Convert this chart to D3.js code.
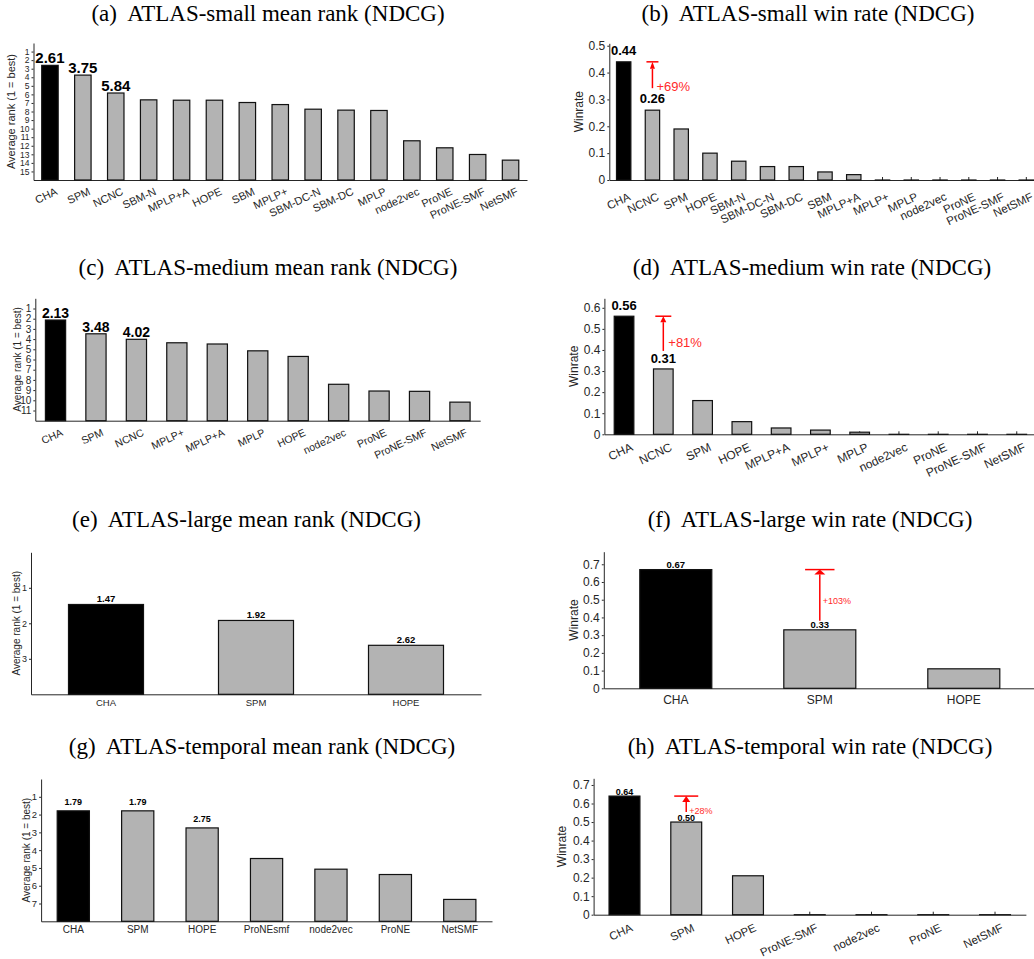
<!DOCTYPE html>
<html>
<head>
<meta charset="utf-8">
<script src="https://cdn.jsdelivr.net/npm/d3@7"></script>
<style>
  body { margin: 0; background: #fff; }
  text { font-family: "Liberation Sans", Arial, Helvetica, sans-serif; }
  .title { font-family: "Liberation Serif", "Times New Roman", serif; white-space: pre; }
</style>
</head>
<body>
<div id="chart"></div>
<script>
// Data.
const smallRankNames = ["CHA","SPM","NCNC","SBM-N","MPLP+A","HOPE","SBM","MPLP+","SBM-DC-N","SBM-DC","MPLP","node2vec","ProNE","ProNE-SMF","NetSMF"];
const smallRankVals  = [2.61, 3.75, 5.84, 6.64, 6.68, 6.68, 6.95, 7.19, 7.73, 7.84, 7.88, 11.42, 12.24, 13.02, 13.68];
const smallWinNames  = ["CHA","NCNC","SPM","HOPE","SBM-N","SBM-DC-N","SBM-DC","SBM","MPLP+A","MPLP+","MPLP","node2vec","ProNE","ProNE-SMF","NetSMF"];
const smallWinVals   = [0.44, 0.26, 0.19, 0.10, 0.07, 0.05, 0.05, 0.03, 0.02, 0, 0, 0, 0, 0, 0];

const mediumRankNames = ["CHA","SPM","NCNC","MPLP+","MPLP+A","MPLP","HOPE","node2vec","ProNE","ProNE-SMF","NetSMF"];
const mediumRankVals  = [2.13, 3.48, 4.02, 4.36, 4.48, 5.15, 5.70, 8.43, 9.09, 9.12, 10.18];
const mediumWinNames  = ["CHA","NCNC","SPM","HOPE","MPLP+A","MPLP+","MPLP","node2vec","ProNE","ProNE-SMF","NetSMF"];
const mediumWinVals   = [0.56, 0.31, 0.16, 0.06, 0.03, 0.02, 0.01, 0, 0, 0, 0];

const largeRankNames = ["CHA","SPM","HOPE"];
const largeRankVals  = [1.47, 1.92, 2.62];
const largeWinNames  = ["CHA","SPM","HOPE"];
const largeWinVals   = [0.67, 0.33, 0.11];

const temporalRankNames = ["CHA","SPM","HOPE","ProNEsmf","node2vec","ProNE","NetSMF"];
const temporalRankVals  = [1.79, 1.79, 2.75, 4.47, 5.07, 5.37, 6.77];
const temporalWinNames  = ["CHA","SPM","HOPE","ProNE-SMF","node2vec","ProNE","NetSMF"];
const temporalWinVals   = [0.64, 0.50, 0.21, 0, 0, 0, 0];

const rankTicksSmall    = [1,2,3,4,5,6,7,8,9,10,11,12,13,14,15];
const rankTicksMedium   = [1,2,3,4,5,6,7,8,9,10,11];
const rankTicksLarge    = [1,2,3];
const rankTicksTemporal = [1,2,3,4,5,6,7];
const winTicks5 = [0,0.1,0.2,0.3,0.4,0.5];
const winTicks6 = [0,0.1,0.2,0.3,0.4,0.5,0.6];
const winTicks7 = [0,0.1,0.2,0.3,0.4,0.5,0.6,0.7];

const titles = [
  "(a)  ATLAS-small mean rank (NDCG)", "(b)  ATLAS-small win rate (NDCG)",
  "(c)  ATLAS-medium mean rank (NDCG)", "(d)  ATLAS-medium win rate (NDCG)",
  "(e)  ATLAS-large mean rank (NDCG)", "(f)  ATLAS-large win rate (NDCG)",
  "(g)  ATLAS-temporal mean rank (NDCG)", "(h)  ATLAS-temporal win rate (NDCG)"
];

const AXIS = "#262626";
const GRAY = "#b3b3b3";
const RED = "#ff0000";

const svg = d3.select("#chart").append("svg")
    .attr("width", 1034)
    .attr("height", 959);

function drawPanel(p) {
  let g = svg.append("g");

  let x = d3.scaleBand()
      .domain(p.names)
      .range([p.x0, p.x1])
      .paddingInner(0.5)
      .paddingOuter(0.25);

  // rank panels: 1 = best at the top, bars hang from the baseline
  let y = p.rank
      ? d3.scaleLinear().domain([0, p.yMax]).range([p.yTop, p.yBase])
      : d3.scaleLinear().domain([0, p.yMax]).range([p.yBase, p.yTop]);

  // x axis (ticks point up, like MATLAB)
  let xa = g.append("g")
      .attr("transform", `translate(0,${p.yBase})`)
      .call(d3.axisBottom(x).tickSizeInner(-3).tickSizeOuter(0));
  xa.select(".domain").attr("stroke", AXIS);
  xa.selectAll(".tick line").attr("stroke", AXIS);
  let xt = xa.selectAll(".tick text")
      .attr("fill", AXIS)
      .attr("font-size", p.xFont);
  if (p.rotate) {
    xt.attr("y", null)
      .attr("dy", "0.71em")
      .attr("text-anchor", "end")
      .attr("transform", `translate(${p.xdx},${p.xdy}) rotate(${p.rotate})`);
  } else {
    xt.attr("y", p.xdy);
  }

  // y axis
  let ya = g.append("g")
      .attr("transform", `translate(${p.x0},0)`)
      .call(d3.axisLeft(y)
        .tickValues(p.ticks)
        .tickSizeInner(2)
        .tickSizeOuter(0)
        .tickPadding(2)
        .tickFormat(d => String(+d.toFixed(1))));
  ya.select(".domain").attr("stroke", AXIS);
  ya.selectAll(".tick line").attr("stroke", AXIS);
  ya.selectAll(".tick text").attr("fill", AXIS).attr("font-size", p.yFont);

  // y label
  g.append("text")
      .attr("transform", `translate(${p.yLabelX},${(p.yTop + p.yBase) / 2}) rotate(-90)`)
      .attr("text-anchor", "middle")
      .attr("font-size", p.yLabelFont)
      .attr("fill", AXIS)
      .text(p.rank ? "Average rank (1 = best)" : "Winrate");

  // bars
  g.selectAll("rect.bar")
    .data(p.names.map((n, i) => ({name: n, v: p.values[i], i: i})))
    .join("rect")
      .attr("class", "bar")
      .attr("x", d => x(d.name))
      .attr("width", x.bandwidth())
      .attr("y", d => y(d.v))
      .attr("height", d => Math.max(0.01, p.yBase - y(d.v)))
      .attr("fill", d => d.i === 0 ? "#000" : GRAY)
      .attr("stroke", "#111")
      .attr("stroke-width", 1.2);

  // value labels on the leading bars
  g.selectAll("text.val")
    .data(p.names.slice(0, p.nLabels).map((n, i) => ({name: n, v: p.values[i]})))
    .join("text")
      .attr("class", "val")
      .attr("x", d => x(d.name) + x.bandwidth() / 2)
      .attr("y", d => y(d.v) - p.labelGap)
      .attr("text-anchor", "middle")
      .attr("font-size", p.labelFont)
      .attr("font-weight", "bold")
      .attr("fill", "#000")
      .text(d => d3.format(".2f")(d.v));

  // improvement arrow (win rate panels)
  if (p.ann) {
    let a = p.ann;
    let cx = x(p.names[1]) + x.bandwidth() / 2;
    let top = y(p.values[0]);
    let start = y(p.values[1]) - a.startPx;
    g.append("line")
        .attr("x1", cx).attr("x2", cx)
        .attr("y1", start).attr("y2", top + a.headH)
        .attr("stroke", RED).attr("stroke-width", 1.5);
    g.append("path")
        .attr("d", `M${cx},${top} L${cx - a.headW / 2},${top + a.headH} L${cx + a.headW / 2},${top + a.headH} Z`)
        .attr("fill", RED);
    g.append("line")
        .attr("x1", cx - a.cap).attr("x2", cx + a.cap)
        .attr("y1", top).attr("y2", top)
        .attr("stroke", RED).attr("stroke-width", 1.5);
    let pct = Math.round((p.values[0] - p.values[1]) / p.values[1] * 100);
    g.append("text")
        .attr("x", cx + a.dx)
        .attr("y", start + a.dy)
        .attr("font-size", a.font)
        .attr("fill", "#ff2a2a")
        .text("+" + pct + "%");
  }

  // caption
  svg.append("text")
      .attr("class", "title")
      .attr("x", p.titleX)
      .attr("y", p.titleY)
      .attr("text-anchor", "middle")
      .attr("font-size", 23)
      .attr("fill", "#000")
      .text(p.title);
}

// (a)
drawPanel({names: smallRankNames, values: smallRankVals, rank: true, yMax: 16, ticks: rankTicksSmall,
  x0: 33.5, x1: 527, yTop: 43, yBase: 180,
  xFont: 11, rotate: -25, xdx: 5, xdy: 7, yFont: 8.5, yLabelX: 15, yLabelFont: 11,
  nLabels: 3, labelFont: 15, labelGap: 2,
  title: titles[0], titleX: 268, titleY: 21});
// (b)
drawPanel({names: smallWinNames, values: smallWinVals, rank: false, yMax: 0.509, ticks: winTicks5,
  x0: 609.3, x1: 1040.7, yTop: 43.3, yBase: 180,
  xFont: 11.5, rotate: -25, xdx: 4, xdy: 12, yFont: 12, yLabelX: 583, yLabelFont: 12,
  nLabels: 2, labelFont: 13, labelGap: 7,
  ann: {startPx: 22, headW: 5, headH: 7, cap: 6, dx: 4, dy: 3, font: 13},
  title: titles[1], titleX: 808, titleY: 21});
// (c)
drawPanel({names: mediumRankNames, values: mediumRankVals, rank: true, yMax: 12, ticks: rankTicksMedium,
  x0: 35.3, x1: 480.2, yTop: 298.3, yBase: 420.7,
  xFont: 10.5, rotate: -25, xdx: 5, xdy: 7.5, yFont: 10, yLabelX: 21, yLabelFont: 10,
  nLabels: 3, labelFont: 14, labelGap: 2,
  title: titles[2], titleX: 268, titleY: 275});
// (d)
drawPanel({names: mediumWinNames, values: mediumWinVals, rank: false, yMax: 0.645, ticks: winTicks6,
  x0: 604.4, x1: 1036.4, yTop: 298.3, yBase: 434.3,
  xFont: 12, rotate: -25, xdx: 6, xdy: 8, yFont: 12, yLabelX: 578, yLabelFont: 12,
  nLabels: 2, labelFont: 13, labelGap: 6,
  ann: {startPx: 18, headW: 6, headH: 6, cap: 8, dx: 5, dy: -4, font: 13},
  title: titles[3], titleX: 812, titleY: 275});
// (e)
drawPanel({names: largeRankNames, values: largeRankVals, rank: true, yMax: 4, ticks: rankTicksLarge,
  x0: 31, x1: 481, yTop: 552.3, yBase: 694.3,
  xFont: 9.5, rotate: 0, xdy: 5, yFont: 9, yLabelX: 19.5, yLabelFont: 10,
  nLabels: 3, labelFont: 9.5, labelGap: 2,
  title: titles[4], titleX: 246.5, titleY: 527});
// (f)
drawPanel({names: largeWinNames, values: largeWinVals, rank: false, yMax: 0.771, ticks: winTicks7,
  x0: 603.8, x1: 1035.8, yTop: 551.7, yBase: 688.3,
  xFont: 12, rotate: 0, xdy: 7.5, yFont: 12, yLabelX: 578, yLabelFont: 12,
  nLabels: 2, labelFont: 9.5, labelGap: 1.5,
  ann: {startPx: 9, headW: 11, headH: 5, cap: 14.7, dx: 3, dy: -17, font: 9},
  title: titles[5], titleX: 810, titleY: 527});
// (g)
drawPanel({names: temporalRankNames, values: temporalRankVals, rank: true, yMax: 8, ticks: rankTicksTemporal,
  x0: 41.1, x1: 492, yTop: 779, yBase: 921.3,
  xFont: 10, rotate: 0, xdy: 5, yFont: 9.5, yLabelX: 30, yLabelFont: 10,
  nLabels: 3, labelFont: 9, labelGap: 6,
  title: titles[6], titleX: 262, titleY: 754});
// (h)
drawPanel({names: temporalWinNames, values: temporalWinVals, rank: false, yMax: 0.736, ticks: winTicks7,
  x0: 593.6, x1: 1025.9, yTop: 778.3, yBase: 914.7,
  xFont: 11.5, rotate: -25, xdx: 5.5, xdy: 8.5, yFont: 12, yLabelX: 566, yLabelFont: 12,
  nLabels: 2, labelFont: 9, labelGap: 1.5,
  ann: {startPx: 10, headW: 8, headH: 6, cap: 12, dx: 3, dy: 1.5, font: 9},
  title: titles[7], titleX: 810, titleY: 754});
</script>
</body>
</html>
